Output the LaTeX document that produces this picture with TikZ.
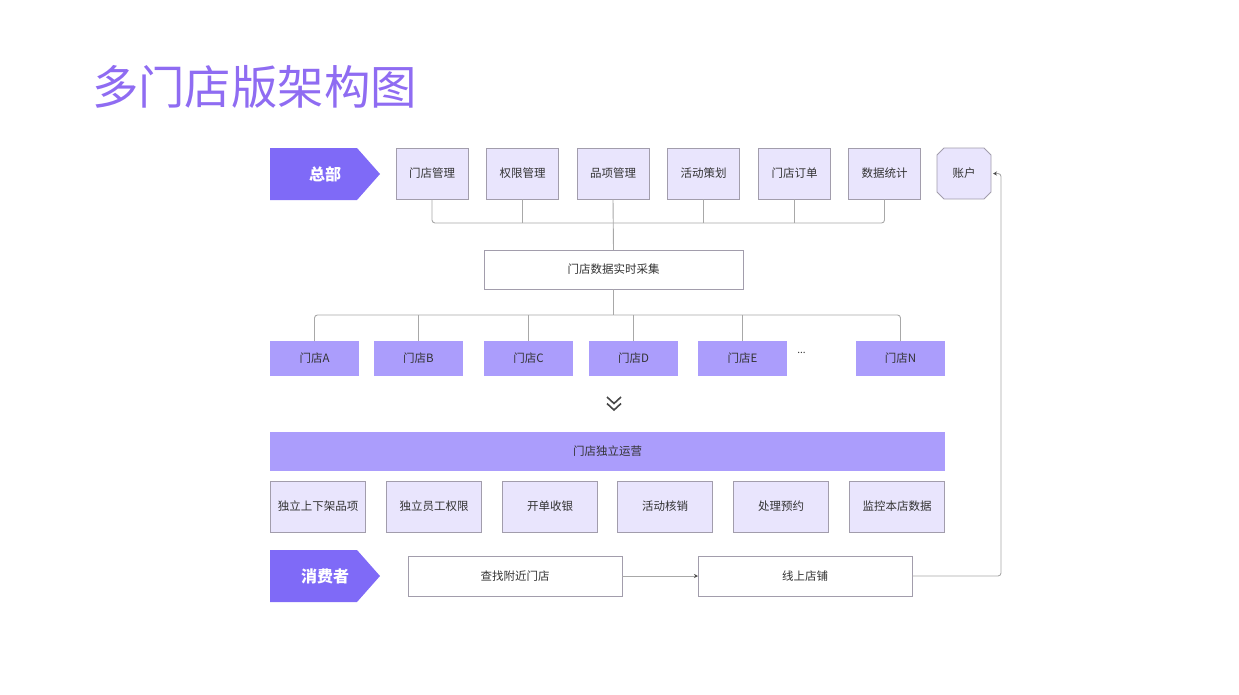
\documentclass[tikz,border=0pt]{standalone}
\usepackage{fontspec}
\setmainfont{Noto Sans CJK SC}
\usetikzlibrary{arrows.meta}
\definecolor{titlec}{HTML}{8F6CF2}
\definecolor{hqc}{HTML}{7F6AF7}
\definecolor{lav}{HTML}{E9E5FD}
\definecolor{storec}{HTML}{AB9DFC}
\definecolor{bord}{HTML}{A29DAC}
\definecolor{linec}{HTML}{A8A8A8}
\definecolor{txt}{HTML}{333333}
\tikzset{
  every node/.style={inner sep=0pt, outer sep=0pt, text=txt, font=\fontsize{11.5}{13}\selectfont},
  hqtext/.style={rectangle, draw=none, minimum width=110, minimum height=52, text=white, font=\fontsize{16}{18}\selectfont\bfseries},
  hqfill/.style={fill=hqc},
  modbox/.style={rectangle, fill=lav, draw=bord, line width=0.9pt, minimum width=72, minimum height=51},
  acctbox/.style={rectangle, draw=none, minimum width=54, minimum height=51},
  octo/.style={fill=lav, draw=bord, line width=0.9pt},
  whitebox/.style={rectangle, fill=white, draw=bord, line width=0.9pt},
  storebox/.style={rectangle, fill=storec, draw=none, minimum width=89, minimum height=35},
  funcbox/.style={rectangle, fill=lav, draw=bord, line width=0.9pt, minimum width=95, minimum height=51},
  conn/.style={draw=linec, line width=0.9pt},
  tip/.style={-{Stealth[length=4pt,width=4pt,color=black!70]}},
  chev/.style={draw=txt!90, line width=1.6pt}
}
\begin{document}
\begin{tikzpicture}[x=1pt,y=-1pt]
\useasboundingbox (0,0) rectangle (1239,694);
% title
\node[anchor=base west, text=titlec, font=\fontsize{46.4}{50}\selectfont] (title) at (92,104) {多门店版架构图};
% HQ row
\fill[hqfill] (270,148) -- (357,148) -- (380,174) -- (357,200) -- (270,200) -- cycle;
\node[hqtext] (hq) at (325,174) {总部};
\node[modbox] (m1) at (432,173.5) {门店管理};
\node[modbox] (m2) at (522.5,173.5) {权限管理};
\node[modbox] (m3) at (613,173.5) {品项管理};
\node[modbox] (m4) at (703.5,173.5) {活动策划};
\node[modbox] (m5) at (794.5,173.5) {门店订单};
\node[modbox] (m6) at (884.5,173.5) {数据统计};
\draw[octo] (944,148) -- (984,148) -- (991,155) -- (991,192) -- (984,199) -- (944,199) -- (937,192) -- (937,155) -- cycle;
\node[acctbox] (acct) at (964,173.5) {账户};
% collect
\node[whitebox, minimum width=259, minimum height=39] (collect) at (613.5,269.5) {门店数据实时采集};
\coordinate (bus1) at (613.5,223);
\draw[conn, rounded corners=3] (m1.south) |- (bus1);
\draw[conn, rounded corners=3] (m6.south) |- (bus1);
\draw[conn] (m2.south) -- (m2.south |- bus1);
\draw[conn] (m4.south) -- (m4.south |- bus1);
\draw[conn] (m5.south) -- (m5.south |- bus1);
\draw[conn] (m3.south) -- (collect.north);
% stores
\node[storebox] (sA) at (314.5,358.5) {门店A};
\node[storebox] (sB) at (418.5,358.5) {门店B};
\node[storebox] (sC) at (528.5,358.5) {门店C};
\node[storebox] (sD) at (633.5,358.5) {门店D};
\node[storebox] (sE) at (742.5,358.5) {门店E};
\node[storebox] (sN) at (900.5,358.5) {门店N};
\node (dots) at (801.5,353) {\fontsize{10}{12}\selectfont ...};
\coordinate (bus2) at (613.5,315);
\draw[conn] (collect.south) -- (bus2);
\draw[conn, rounded corners=3] (sA.north) |- (bus2);
\draw[conn, rounded corners=3] (sN.north) |- (bus2);
\draw[conn] (sB.north) -- (sB.north |- bus2);
\draw[conn] (sC.north) -- (sC.north |- bus2);
\draw[conn] (sD.north) -- (sD.north |- bus2);
\draw[conn] (sE.north) -- (sE.north |- bus2);
% chevrons
\draw[chev] (607,397) -- (614,403.5) -- (621,397);
\draw[chev] (607,403.5) -- (614,410) -- (621,403.5);
% operation bar
\node[storebox, minimum width=675, minimum height=39] (ops) at (607.5,451.5) {门店独立运营};
\node[funcbox] (f1) at (318,506.5) {独立上下架品项};
\node[funcbox] (f2) at (434,506.5) {独立员工权限};
\node[funcbox] (f3) at (550,506.5) {开单收银};
\node[funcbox] (f4) at (665,506.5) {活动核销};
\node[funcbox] (f5) at (781,506.5) {处理预约};
\node[funcbox] (f6) at (897,506.5) {监控本店数据};
% consumer row
\fill[hqfill] (270,550) -- (357,550) -- (380,576) -- (357,602) -- (270,602) -- cycle;
\node[hqtext] (cons) at (325,576) {消费者};
\node[whitebox, minimum width=214, minimum height=40] (find) at (515,576) {查找附近门店};
\node[whitebox, minimum width=214, minimum height=40] (online) at (805,576) {线上店铺};
\draw[conn, tip] (find.east) -- (online.west);
\coordinate (rt) at (1001,400);
\draw[conn, tip, rounded corners=3] (online.east) -| (rt) |- ([xshift=2pt]acct.east);
\end{tikzpicture}
\end{document}
